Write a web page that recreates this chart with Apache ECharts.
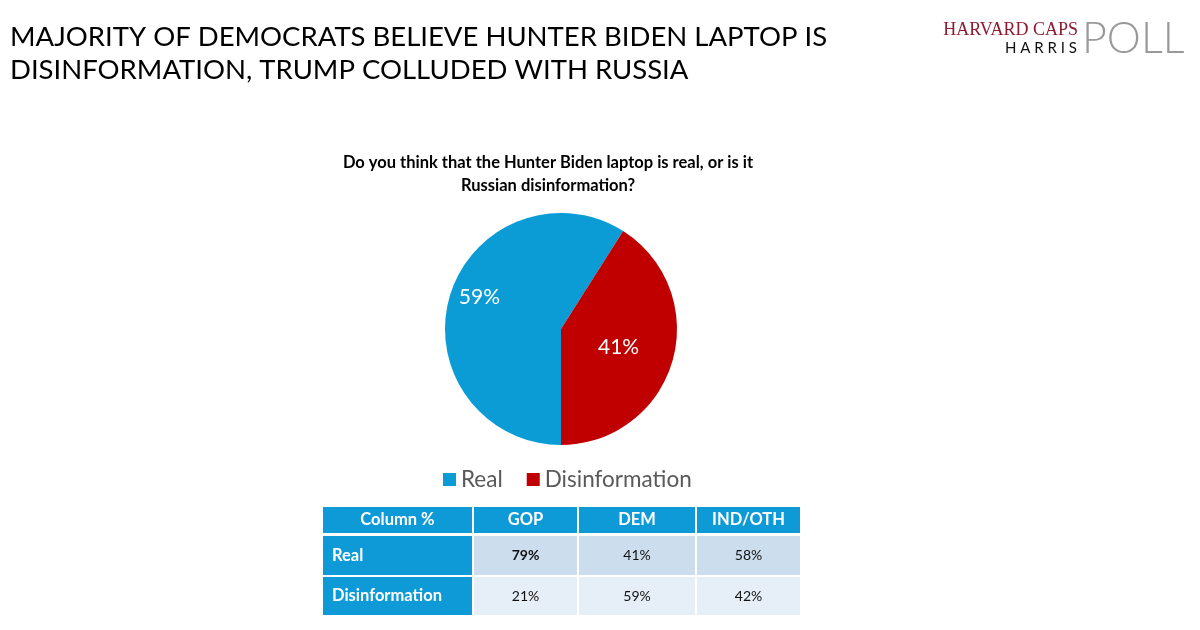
<!DOCTYPE html>
<html>
<head>
<meta charset="utf-8">
<script src="https://cdn.jsdelivr.net/npm/echarts@6/dist/echarts.min.js"></script>
<style>
html,body{margin:0;padding:0;background:#fff;}
#chart{width:1200px;height:630px;}
</style>
</head>
<body>
<div id="chart"></div>
<script>
// ---- data ----
const categories = ['Real', 'Disinformation'];
const totalValues = [59, 41];
const tableColumns = ['Column %', 'GOP', 'DEM', 'IND/OTH'];
const gopValues = [79, 21];
const demValues = [41, 59];
const indValues = [58, 42];

const titleLines = ['MAJORITY OF DEMOCRATS BELIEVE HUNTER BIDEN LAPTOP IS', 'DISINFORMATION, TRUMP COLLUDED WITH RUSSIA'];
const questionLines = ['Do you think that the Hunter Biden laptop is real, or is it', 'Russian disinformation?'];

const colors = ['#0B9CD6', '#C00000'];
const FONT = 'Lato, "Open Sans", sans-serif';

const chart = echarts.init(document.getElementById('chart'), null, {renderer: 'canvas'});

// ---- table graphics ----
const colX = [323, 474, 579, 697];
const colW = [149, 103, 116, 103];
const rowY = [507, 536, 577];
const rowH = [26, 39, 38];
const rowFill = ['#CCDDEE', '#E6EEF7'];
const headBlue = '#0E9AD7';
const tableElems = [];
function cell(x, y, w, h, fill, txt, color, weight, size, align) {
  tableElems.push({
    type: 'rect', shape: {x: x, y: y, width: w, height: h}, style: {fill: fill}, silent: true
  });
  tableElems.push({
    type: 'text',
    x: align === 'left' ? x + 9 : x + w / 2,
    y: y + h / 2,
    style: {text: txt, fill: color, font: weight + ' ' + size + 'px ' + FONT, align: align === 'left' ? 'left' : 'center', verticalAlign: 'middle'},
    silent: true
  });
}
tableColumns.forEach((c, i) => cell(colX[i], rowY[0], colW[i], rowH[0], headBlue, c, '#fff', 'bold', 16.5, 'center'));
categories.forEach((cat, r) => {
  const y = rowY[r + 1], h = rowH[r + 1];
  cell(colX[0], y, colW[0], h, headBlue, cat, '#fff', 'bold', 16.5, 'left');
  const vals = [gopValues[r], demValues[r], indValues[r]];
  vals.forEach((v, j) => {
    const bold = (r === 0 && j === 0) ? 'bold' : 'normal';
    cell(colX[j + 1], y, colW[j + 1], h, rowFill[r], v + '%', '#111', bold, 14, 'center');
  });
});

const option = {
  backgroundColor: '#fff',
  animation: false,
  title: [
    {text: titleLines.join('\n'), left: 5, top: 16,
     textStyle: {fontFamily: FONT, fontSize: 27.5, fontWeight: 'normal', color: '#000', lineHeight: 33}},
    {text: questionLines.join('\n'), left: 543, top: 146, textAlign: 'center',
     textStyle: {fontFamily: FONT, fontSize: 16.5, fontWeight: 'bold', color: '#000', lineHeight: 23, align: 'center'}}
  ],
  graphic: [
    {type: 'text', x: 1078, y: 39, style: {text: 'HARVARD CAPS', fill: '#8E1B30', font: '18px "Liberation Serif", serif', align: 'right', verticalAlign: 'bottom'}, silent: true},
    {type: 'text', x: 1077, y: 56, style: {text: 'H A R R I S', fill: '#111', font: '15px ' + FONT, align: 'right', verticalAlign: 'bottom'}, silent: true},
    {type: 'text', x: 1082, y: 61, style: {text: 'POLL', fill: '#999', font: '300 43px ' + FONT, align: 'left', verticalAlign: 'bottom'}, silent: true}
  ].concat(tableElems),
  legend: {
    data: categories,
    left: 438, top: 463,
    icon: 'rect', itemWidth: 13, itemHeight: 13, itemGap: 24,
    textStyle: {fontFamily: FONT, fontSize: 22.5, color: '#595959'}
  },
  series: [{
    type: 'pie',
    center: [561, 329],
    radius: 116,
    startAngle: 270,
    clockwise: true,
    silent: true,
    itemStyle: {borderWidth: 0},
    label: {show: true, position: 'inside', color: '#fff', fontFamily: FONT, fontSize: 21, formatter: '{c}%'},
    labelLine: {show: false},
    data: categories.map((c, i) => ({
      name: c, value: totalValues[i],
      itemStyle: {color: colors[i]},
      label: {offset: i === 0 ? [-23, -15] : [-1, 1]}
    }))
  }],
  color: colors
};
chart.setOption(option);
</script>
</body>
</html>
